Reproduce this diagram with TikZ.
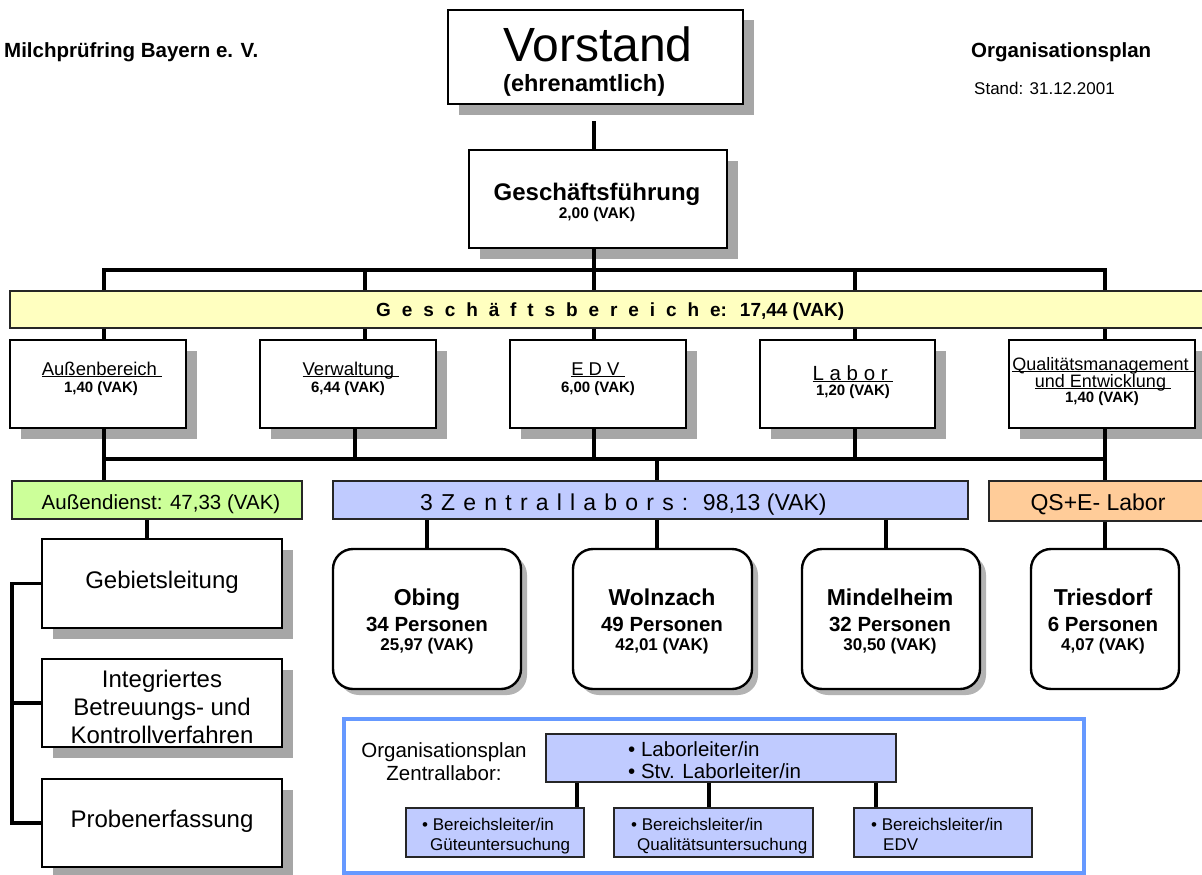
\documentclass[tikz,border=0pt]{standalone}
\usepackage{fontspec}
\setmainfont{Liberation Sans}
\usetikzlibrary{shadows}
\definecolor{ybar}{RGB}{255,255,192}
\definecolor{bbar}{RGB}{192,203,255}
\definecolor{gbar}{RGB}{204,255,153}
\definecolor{obar}{RGB}{255,204,153}
\definecolor{frameblue}{RGB}{102,153,255}
\definecolor{shadowgray}{RGB}{166,166,166}
\newlength\lsp
\makeatletter
\def\lspaced#1{\lsp@#1\relax}
\def\lsp@#1{\ifx\relax#1\else#1\kern\lsp\expandafter\lsp@\fi}
\makeatother
\newcommand\myfs[1]{\fontsize{#1}{#1}\selectfont}
\newcommand\uln[1]{\setbox0=\hbox{#1}\rlap{\rule[-2.3pt]{\wd0}{1.4pt}}\box0}
\begin{document}
\begin{tikzpicture}[x=1pt,y=-1pt,
  box/.style={draw, line width=2.4pt, fill=white, inner sep=0pt,
    general shadow={fill=shadowgray, shadow xshift=10.5pt, shadow yshift=-10.5pt}},
  rbox/.style={draw, line width=2.4pt, fill=white, inner sep=0pt, rounded corners=20pt,
    general shadow={fill=shadowgray!85, shadow xshift=6pt, shadow yshift=-6pt}},
  rboxns/.style={draw, line width=2.4pt, fill=white, inner sep=0pt, rounded corners=20pt},
  bar/.style={draw=black!85, line width=1.6pt, inner sep=0pt},
  dim/.style 2 args={minimum width=#1pt, minimum height=#2pt},
  txt/.style={inner sep=0pt, anchor=base},
  conn/.style={line width=3.6pt},
]
\path[use as bounding box, fill=white] (0,0) rectangle (1202,875);

% header texts
\node[txt, anchor=base west, font=\bfseries\myfs{20.5}] (t1) at (4,58) {Milchprüfring Bayern e. V.};
\node[txt, anchor=base west, font=\bfseries\myfs{20.5}] (t2) at (971,58) {Organisationsplan};
\node[txt, anchor=base west, font=\myfs{17}] (t3) at (974,94) {Stand: 31.12.2001};

% Vorstand and Geschaeftsfuehrung
\node[box, dim={295}{94}] (vor) at (595.5,57) {};
\node[txt, anchor=base west, font=\myfs{48}] (vort) at (503,62) {Vorstand};
\node[txt, anchor=base west, font=\bfseries\myfs{23.5}] (vore) at (503,92) {(ehrenamtlich)};
\node[box, dim={258}{98}] (gf) at (598,199) {};
\node[txt, font=\bfseries\myfs{24}] (gft) at (597,200) {Geschäftsführung};
\node[txt, font=\bfseries\myfs{15.5}] (gfv) at (597,218) {2,00 (VAK)};

% coordinates of the buses
\coordinate (b1) at (104,270);
\coordinate (b2) at (365,270);
\coordinate (b3) at (594,270);
\coordinate (b4) at (855,270);
\coordinate (b5) at (1105,270);
\coordinate (c1) at (104,459);
\coordinate (c2) at (355,459);
\coordinate (c3) at (594,459);
\coordinate (c4) at (855,459);
\coordinate (c5) at (1105,459);
\coordinate (c6) at (657,459);
\coordinate (d1) at (147,530);
\coordinate (d3) at (886,530);
\coordinate (brk) at (12,700);
\coordinate (e1) at (577,795);
\coordinate (e2) at (709,795);
\coordinate (e3) at (876,795);

% yellow bar
\node[bar, fill=ybar, dim={1215}{37}] (yb) at (617.5,309.5) {};
\node[txt, anchor=base west, font=\bfseries\myfs{19}] (ybt) at (376,316) {\lsp=10.9pt\relax\lspaced{Geschäftsbereich}e:\hspace{13pt}17,44 (VAK)};

% second row boxes
\node[box, dim={176}{88}] (ab) at (98,384) {};
\node[box, dim={176}{88}] (vw) at (348,384) {};
\node[box, dim={176}{88}] (edv) at (598,384) {};
\node[box, dim={175}{88}] (lab) at (847.5,384) {};
\node[box, dim={186}{88}] (qm) at (1102,384) {};
\node[txt, font=\myfs{18.5}] (abt) at (102,375) {\uln{Außenbereich\ }};
\node[txt, font=\bfseries\myfs{15}] (abv) at (101,392) {1,40 (VAK)};
\node[txt, font=\myfs{18.5}] (vwt) at (351,375) {\uln{Verwaltung\ }};
\node[txt, font=\bfseries\myfs{15}] (vwv) at (348,392) {6,44 (VAK)};
\node[txt, font=\myfs{18.5}] (edvt) at (598,375) {\uln{E D V\ }};
\node[txt, font=\bfseries\myfs{15}] (edvv) at (598,392) {6,00 (VAK)};
\node[txt, font=\myfs{20.5}] (labt) at (853,380) {\uln{L a b o r\ }};
\node[txt, font=\bfseries\myfs{15}] (labv) at (853,395) {1,20 (VAK)};
\node[txt, font=\myfs{18}] (qmt) at (1103,370) {\uln{Qualitätsmanagement\ }};
\node[txt, font=\myfs{18}] (qmt2) at (1103,387) {\uln{und Entwicklung\ }};
\node[txt, font=\bfseries\myfs{15}] (qmv) at (1102,402) {1,40 (VAK)};

% third row bars
\node[bar, fill=gbar, dim={290}{38}] (ad) at (157,500) {};
\node[txt, font=\myfs{20.5}] (adt) at (161,509) {Außendienst: 47,33 (VAK)};
\node[bar, fill=bbar, dim={635}{38}] (zb) at (650.5,500) {};
\node[txt, anchor=base west, font=\myfs{23}] (zbt) at (420,510) {\lsp=8.2pt\relax\lspaced{3Zentrallabors:}\ 98,13 (VAK)};
\node[bar, fill=obar, dim={240}{40}] (qse) at (1109,501) {};
\node[txt, font=\myfs{23}] (qset) at (1098,510) {QS+E- Labor};

% laboratories
\node[rbox, dim={188}{140}] (obi) at (427,619) {};
\node[rbox, dim={179}{140}] (wol) at (662.5,619) {};
\node[rbox, dim={178}{140}] (min) at (891,619) {};
\node[rboxns, dim={148}{140}] (tri) at (1105,619) {};
\node[txt, font=\bfseries\myfs{23}] (obi1) at (427,605) {Obing};
\node[txt, font=\bfseries\myfs{20.5}] (obi2) at (427,631) {34 Personen};
\node[txt, font=\bfseries\myfs{17}] (obi3) at (427,650) {25,97 (VAK)};
\node[txt, font=\bfseries\myfs{23}] (wol1) at (662,605) {Wolnzach};
\node[txt, font=\bfseries\myfs{20.5}] (wol2) at (662,631) {49 Personen};
\node[txt, font=\bfseries\myfs{17}] (wol3) at (662,650) {42,01 (VAK)};
\node[txt, font=\bfseries\myfs{23}] (min1) at (890,605) {Mindelheim};
\node[txt, font=\bfseries\myfs{20.5}] (min2) at (890,631) {32 Personen};
\node[txt, font=\bfseries\myfs{17}] (min3) at (890,650) {30,50 (VAK)};
\node[txt, font=\bfseries\myfs{23}] (tri1) at (1103,605) {Triesdorf};
\node[txt, font=\bfseries\myfs{20.5}] (tri2) at (1103,631) {6 Personen};
\node[txt, font=\bfseries\myfs{17}] (tri3) at (1103,650) {4,07 (VAK)};

% field service column
\node[box, dim={240}{89}] (geb) at (162,583.5) {};
\node[box, dim={240}{88}] (int) at (162,703) {};
\node[box, dim={240}{88}] (pro) at (162,823) {};
\node[txt, font=\myfs{24}] (gebt) at (162,588) {Gebietsleitung};
\node[txt, font=\myfs{24}] (int1) at (162,687) {Integriertes};
\node[txt, font=\myfs{24}] (int2) at (162,715) {Betreuungs- und};
\node[txt, font=\myfs{24}] (int3) at (162,743) {Kontrollverfahren};
\node[txt, font=\myfs{24}] (prot) at (162,827) {Probenerfassung};

% Organisationsplan Zentrallabor
\node[draw=frameblue, line width=3.4pt, dim={740}{154}, inner sep=0pt] (zf) at (714,796) {};
\node[txt, font=\myfs{20.5}] (zft1) at (444,757) {Organisationsplan};
\node[txt, font=\myfs{20.5}] (zft2) at (444,780) {Zentrallabor:};
\node[bar, fill=bbar, dim={350}{48}] (zl) at (721,758) {};
\node[txt, anchor=base west, font=\myfs{20.5}] (zl1) at (628,756) {•\ Laborleiter/in};
\node[txt, anchor=base west, font=\myfs{20.5}] (zl2) at (628,778) {•\ Stv. Laborleiter/in};
\node[bar, fill=bbar, dim={178}{49}] (zg) at (495,832.5) {};
\node[bar, fill=bbar, dim={199}{49}] (zq) at (713.5,832.5) {};
\node[bar, fill=bbar, dim={178}{49}] (ze) at (943,832.5) {};
\node[txt, anchor=base west, font=\myfs{17}] (zg1) at (422,830) {•\ Bereichsleiter/in};
\node[txt, anchor=base west, font=\myfs{17}] (zg2) at (430,850) {Güteuntersuchung};
\node[txt, anchor=base west, font=\myfs{17}] (zq1) at (631,830) {•\ Bereichsleiter/in};
\node[txt, anchor=base west, font=\myfs{17}] (zq2) at (637,850) {Qualitätsuntersuchung};
\node[txt, anchor=base west, font=\myfs{17}] (ze1) at (871,830) {•\ Bereichsleiter/in};
\node[txt, anchor=base west, font=\myfs{17}] (ze2) at (883,850) {EDV};

% connectors
\draw[conn] ([yshift=-16pt]vor.south -| b3) -- (gf.north -| b3);
\draw[conn] (yb.north -| b1) -- (b1) -- (b5) -- (yb.north -| b5);
\draw[conn] (gf.south -| b3) -- (yb.north -| b3);
\draw[conn] (b2) -- (yb.north -| b2);
\draw[conn] (b4) -- (yb.north -| b4);
\draw[conn] (yb.south -| b1) -- (ab.north -| b1);
\draw[conn] (yb.south -| b2) -- (vw.north -| b2);
\draw[conn] (yb.south -| b3) -- (edv.north -| b3);
\draw[conn] (yb.south -| b4) -- (lab.north -| b4);
\draw[conn] (yb.south -| b5) -- (qm.north -| b5);
\draw[conn] (c1) -- (c5);
\draw[conn] (ab.south -| c1) -- (ad.north -| c1);
\draw[conn] (vw.south -| c2) -- (c2);
\draw[conn] (edv.south -| c3) -- (c3);
\draw[conn] (lab.south -| c4) -- (c4);
\draw[conn] (qm.south -| c5) -- (qse.north -| c5);
\draw[conn] (c6) -- (zb.north -| c6);
\draw[conn] (zb.south -| obi.north) -- (obi.north);
\draw[conn] (zb.south -| c6) -- (wol.north -| c6);
\draw[conn] (zb.south -| d3) -- (min.north -| d3);
\draw[conn] (qse.south -| c5) -- (tri.north -| c5);
\draw[conn] (ad.south -| d1) -- (geb.north -| d1);
\draw[conn] (geb.west) -- (geb.west -| brk) -- (pro.west -| brk) -- (pro.west);
\draw[conn] (int.west) -- (int.west -| brk);
\draw[line width=3.2pt] (zl.south -| e1) -- (zg.north -| e1);
\draw[line width=3.2pt] (zl.south -| e2) -- (zq.north -| e2);
\draw[line width=3.2pt] (zl.south -| e3) -- (ze.north -| e3);
\end{tikzpicture}
\end{document}
